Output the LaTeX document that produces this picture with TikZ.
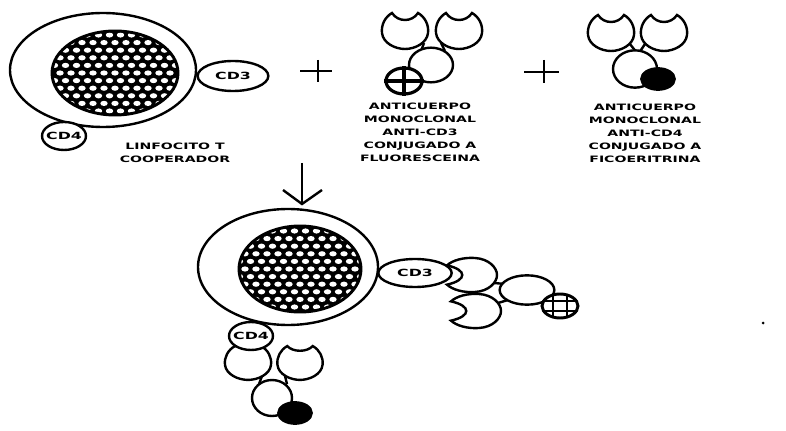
\documentclass[tikz,border=0pt]{standalone}
\usepackage{fontspec}
\usetikzlibrary{shapes.geometric}
\newfontfamily\labelfont[FakeStretch=1.6]{DejaVu Sans Bold}
\tikzset{
  x=0.75pt, y=-0.75pt,
  ink/.style={line width=1.8pt, draw=black},
  marker/.style={font=\labelfont\fontsize{7.4}{8}\selectfont, inner sep=0pt, align=center},
  tightmarker/.style={marker, inner sep=-3pt},
  caption/.style={font=\labelfont\fontsize{6.6}{9.75}\selectfont, inner sep=0pt, align=center},
  fab/.pic={
    \draw[ink, fill=white] (-13,-18) .. controls (-7,{-18+#1*4/3}) and (7,{-18+#1*4/3}) .. (13,-18)
      .. controls (20,-14) and (24,-6) .. (23,2)
      .. controls (22,12) and (10,18) .. (0,18)
      .. controls (-10,18) and (-22,12) .. (-23,2)
      .. controls (-24,-6) and (-20,-14) .. (-13,-18) -- cycle;
  }
}
% Cell nucleus: black disc pierced by a staggered lattice of white dots.
% #1 centre x, #2 centre y, #3 x radius, #4 y radius
\newcommand{\nucleusdisc}[4]{%
  \begin{scope}
    \clip (#1,#2) circle [x radius=#3, y radius=#4];
    \fill[black] (#1,#2) circle [x radius=#3, y radius=#4];
    \foreach \r in {-7,...,7} {
      \pgfmathsetmacro{\off}{mod(abs(\r),2)*5.5}
      \foreach \c in {-7,...,7} {
        \fill[white] ({#1+\c*11+\off},{#2+\r*7.6}) circle [x radius=3.7, y radius=2.6];
      }
    }
  \end{scope}
  \draw[line width=2.2pt] (#1,#2) circle [x radius=#3, y radius=#4];
}
\begin{document}
\begin{tikzpicture}
\useasboundingbox[fill=white] (0,0) rectangle (786,431);

% ---- resting T helper cell ----
\node[ink, fill=white, ellipse, inner sep=0pt, minimum width=139.5pt, minimum height=85.5pt] (cellA) at (103,70) {};
\nucleusdisc{115}{73}{63}{42}
\node[ink, fill=white, ellipse, minimum width=53pt, minimum height=22.5pt, marker] (cdThreeA) at (233,76) {CD3};
\node[ink, fill=white, ellipse, minimum width=33pt, minimum height=21pt, tightmarker] (cdFourA) at (64,136) {CD4};
\node[caption] (capA) at (175,153) {LINFOCITO T\\COOPERADOR};

% ---- first plus sign ----
\coordinate (plusAw) at (300,71); \coordinate (plusAe) at (332,71);
\coordinate (plusAn) at (318,60); \coordinate (plusAs) at (318,82);
\draw[ink] (plusAw) -- (plusAe); \draw[ink] (plusAn) -- (plusAs);

% ---- anti-CD3 antibody with fluorescein ----
\pic (fabBl) at (405,31) {fab=7};
\pic (fabBr) at (459,31) {fab=7};
\coordinate (hingeBl) at (424,43); \coordinate (footBl) at (421,51);
\coordinate (hingeBr) at (441,43); \coordinate (footBr) at (445,51);
\draw[ink] (hingeBl) -- (footBl); \draw[ink] (hingeBr) -- (footBr);
\node[ink, fill=white, ellipse, inner sep=0pt, minimum width=33pt, minimum height=26pt] (fcB) at (431,65) {};
\node[ink, fill=white, ellipse, inner sep=0pt, minimum width=27pt, minimum height=19.5pt, line width=2.4pt] (fluorB) at (404,81) {};
\draw[line width=2.6pt] (fluorB.north) -- (fluorB.south);
\draw[line width=2.6pt] (fluorB.west) -- (fluorB.east);
\node[caption] (capB) at (420,132) {ANTICUERPO\\MONOCLONAL\\ANTI-CD3\\CONJUGADO A\\FLUORESCEINA};

% ---- second plus sign ----
\coordinate (plusBw) at (524,72); \coordinate (plusBe) at (559,72);
\coordinate (plusBn) at (544,60); \coordinate (plusBs) at (544,83);
\draw[ink] (plusBw) -- (plusBe); \draw[ink] (plusBn) -- (plusBs);

% ---- anti-CD4 antibody with phycoerythrin ----
\pic (fabCl) at (611,33) {fab=7};
\pic (fabCr) at (664,33) {fab=7};
\coordinate (hingeCl) at (630,44); \coordinate (footCl) at (637,53);
\coordinate (hingeCr) at (645,44); \coordinate (footCr) at (639,53);
\draw[ink] (hingeCl) -- (footCl); \draw[ink] (hingeCr) -- (footCr);
\node[ink, fill=white, ellipse, inner sep=0pt, minimum width=33pt, minimum height=28pt] (fcC) at (635,69) {};
\node[ink, fill=black, ellipse, inner sep=0pt, minimum width=25pt, minimum height=16pt] (peC) at (658,79) {};
\node[caption] (capC) at (645,133) {ANTICUERPO\\MONOCLONAL\\ANTI-CD4\\CONJUGADO A\\FICOERITRINA};

% ---- reaction arrow ----
\coordinate (arrowTop) at (302,163); \coordinate (arrowTip) at (302,204);
\coordinate (arrowL) at (283,190); \coordinate (arrowR) at (322,190);
\draw[ink] (arrowTop) -- (arrowTip);
\draw[ink] (arrowL) -- (arrowTip) -- (arrowR);

% ---- antibody on CD3, drawn first so the CD3 marker overlaps its binding site ----
\pic[rotate=90, xscale=0.74, yscale=1.39] (fabDt) at (472,275) {fab=11};
\pic[rotate=90, xscale=0.74, yscale=1.39] (fabDb) at (476,311) {fab=11};
\coordinate (hingeDt) at (494,283); \coordinate (footDt) at (505,284);
\coordinate (hingeDb) at (498,303); \coordinate (footDb) at (508,300);
\draw[ink] (hingeDt) -- (footDt); \draw[ink] (hingeDb) -- (footDb);
\node[ink, fill=white, ellipse, inner sep=0pt, minimum width=41pt, minimum height=22pt] (fcD) at (527,290) {};
\node[ink, fill=white, ellipse, inner sep=0pt, minimum width=27pt, minimum height=18pt, line width=2.2pt] (fluorD) at (560,306) {};
\coordinate (gridAw) at (544,301); \coordinate (gridAe) at (576,301);
\coordinate (gridBw) at (544,311); \coordinate (gridBe) at (576,311);
\coordinate (gridCn) at (553,295); \coordinate (gridCs) at (553,317);
\coordinate (gridDn) at (567,295); \coordinate (gridDs) at (567,317);
\draw[line width=1.8pt] (gridAw) -- (gridAe);
\draw[line width=1.8pt] (gridBw) -- (gridBe);
\draw[line width=1.8pt] (gridCn) -- (gridCs);
\draw[line width=1.8pt] (gridDn) -- (gridDs);

% ---- labelled cell ----
\node[ink, fill=white, ellipse, inner sep=0pt, minimum width=135pt, minimum height=87pt] (cellE) at (288,267) {};
\nucleusdisc{300}{269}{61}{43}
\node[ink, fill=white, ellipse, minimum width=55pt, minimum height=21pt, marker] (cdThreeE) at (415,273) {CD3};

% ---- antibody on CD4 ----
\pic[xscale=1.0, yscale=0.94] (fabFl) at (248,363) {fab=0};
\pic[xscale=0.98, yscale=0.94] (fabFr) at (300,363) {fab=5};
\coordinate (hingeFl) at (262,376); \coordinate (footFl) at (259,384);
\coordinate (hingeFr) at (285,376); \coordinate (footFr) at (287,384);
\draw[ink] (hingeFl) -- (footFl); \draw[ink] (hingeFr) -- (footFr);
\node[ink, fill=white, ellipse, inner sep=0pt, minimum width=30pt, minimum height=27pt] (fcF) at (272,398) {};
\node[ink, fill=black, ellipse, inner sep=0pt, minimum width=25pt, minimum height=16pt] (peF) at (295,413) {};
\node[ink, fill=white, ellipse, minimum width=33pt, minimum height=21pt, tightmarker] (cdFourE) at (251,336) {CD4};

% ---- small speck near the right edge ----
\fill (763,323) circle [radius=1.5];
\end{tikzpicture}
\end{document}
